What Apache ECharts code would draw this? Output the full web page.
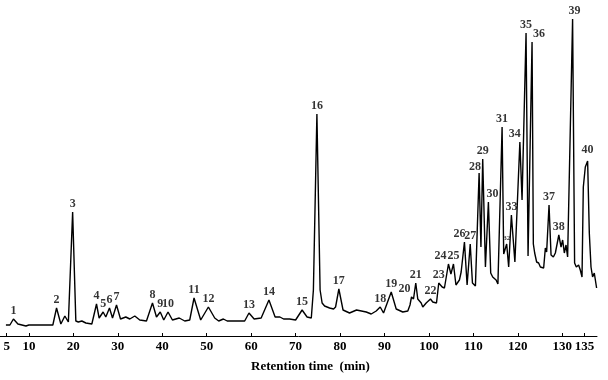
<!DOCTYPE html>
<html>
<head>
<meta charset="utf-8">
<script src="https://cdn.jsdelivr.net/npm/echarts@6/dist/echarts.min.js"></script>
<style>
html,body{margin:0;padding:0;background:#fff;}
#chart{width:608px;height:380px;}
</style>
</head>
<body>
<div id="chart"></div>
<script>
// Baseline / valley points of the chromatogram trace (retention time, response)
const traceTimes = [4.83,5.73,7.53,8.43,9.33,10.0,15.39,17.19,18.09,18.88,
  20.56,21.12,21.91,22.81,24.16,25.80,27.30,28.81,30.61,31.80,
  32.70,33.82,34.94,36.45,38.70,40.34,42.29,43.82,45.06,46.18,
  48.65,51.80,52.70,53.75,54.61,58.54,60.67,62.25,65.39,66.47,
  67.30,68.65,70.00,72.58,73.53,74.00,75.51,75.96,76.52,77.64,
  78.54,78.99,80.67,82.13,83.71,85.89,87.01,88.13,89.78,92.63,
  94.11,95.24,95.73,96.52,97.48,98.25,98.61,99.37,100.85,101.69,
  102.97,103.48,104.94,106.07,106.85,107.24,108.58,109.78,110.45,111.69,
  112.70,113.89,114.34,114.72,115.10,115.51,116.81,117.93,119.33,120.94,
  122.29,123.48,123.78,124.22,124.67,125.06,125.44,125.80,126.18,126.47,
  127.46,127.98,128.43,129.71,130.07,130.45,130.83,131.19,132.76,133.15,
  133.66,134.04,134.43,134.72,135.17,136.07,136.45,136.81,137.19,137.71];
const traceValues = [11,11,12,11,10,11,11,12,20,14,
  15,14,15,13,12,18,19,18,17,19,
  17,20,16,15,19,16,16,18,15,16,
  16,18,15,17,15,15,17,18,19,19,
  17,17,16,19,18,46,46,33,30,28,
  27,29,26,23,26,24,22,25,23,27,
  24,25,31,37,37,33,29,33,34,33,
  49,48,62,51,56,64,51,53,50,89,
  69,63,59,61,56,52,82,69,74,136,
  80,92,83,74,73,69,71,68,88,84,
  81,79,83,89,96,83,91,79,73,69,
  71,66,59,149,169,103,69,59,63,48];

// Numbered peaks (apex)
const peakNames = ['1','2','3','4','5','6','7','8','9','10',
  '11','12','13','14','15','16','17','18','19','20',
  '21','22','23','24','25','26','27','28','29','30',
  '31','32','33','34','35','36','37','38','39','40'];
const peakTimes = [6.52,16.22,19.84,25.21,26.70,28.13,29.71,37.80,39.55,41.30,
  47.15,50.38,59.51,64.00,71.46,74.79,79.73,89.03,91.51,96.07,
  97.03,100.34,102.20,104.38,105.51,107.98,109.28,111.28,112.09,113.37,
  116.45,117.48,118.54,120.45,121.84,123.19,127.01,129.21,132.31,135.69];
const peakValues = [17,28,124,32,24,28,31,33,24,24,
  38,29,23,36,26,222,47,29,44,39,
  53,37,53,72,72,94,92,163,177,134,
  209,92,121,194,303,294,131,101,317,175];

// Axis tick labels
const tickValues = [5,10,20,30,40,50,60,70,80,90,100,110,120,130,135];

// label style tweaks (pixel offsets)
const labelOffsets = {'20':[-7,0],'24':[-8,0],'26':[-5,0],'28':[-4,2],'30':[4,0],
  '34':[-5,0],'36':[7,0],'39':[2,0],'40':[0,-3]};

const pts = [];
traceTimes.forEach((t,i)=>pts.push([t, traceValues[i]]));
peakTimes.forEach((t,i)=>pts.push([t, peakValues[i]]));
pts.sort((a,b)=>a[0]-b[0]);

const peakData = peakNames.map((n,i)=>{
  const off = labelOffsets[n] || [0,0];
  const d = {name:n, value:[peakTimes[i], peakValues[i]], label:{offset:off}};
  if (n === '32') d.label.fontSize = 7;
  return d;
});

const serif = '"Liberation Serif", "Times New Roman", serif';
const chart = echarts.init(document.getElementById('chart'), null, {renderer:'canvas'});
chart.setOption({
  animation:false,
  backgroundColor:'#fff',
  grid:{left:0, right:11, top:16, bottom:44, containLabel:false},
  xAxis:{
    type:'value', min:3.5, max:137.8,
    name:'Retention time  (min)', nameLocation:'middle', nameGap:24,
    nameTextStyle:{fontFamily:serif, fontWeight:'bold', fontSize:13, color:'#000', padding:[0,0,0,24]},
    axisLine:{show:true, onZero:false, lineStyle:{color:'#000', width:1}},
    axisTick:{show:true, inside:true, length:3, customValues:tickValues, lineStyle:{color:'#000'}},
    axisLabel:{customValues:tickValues, fontFamily:serif, fontWeight:'bold', fontSize:13, color:'#000', margin:4},
    splitLine:{show:false}
  },
  yAxis:{type:'value', min:0, max:320, show:false},
  series:[
    {type:'line', data:pts, showSymbol:false, symbol:'none',
     lineStyle:{color:'#000', width:1.4}, z:2},
    {type:'scatter', data:peakData, symbolSize:0, z:3,
     label:{show:true, position:'top', distance:2, formatter:'{b}',
       fontFamily:serif, fontWeight:'bold', fontSize:12, color:'#000'}}
  ]
});
</script>
</body>
</html>
